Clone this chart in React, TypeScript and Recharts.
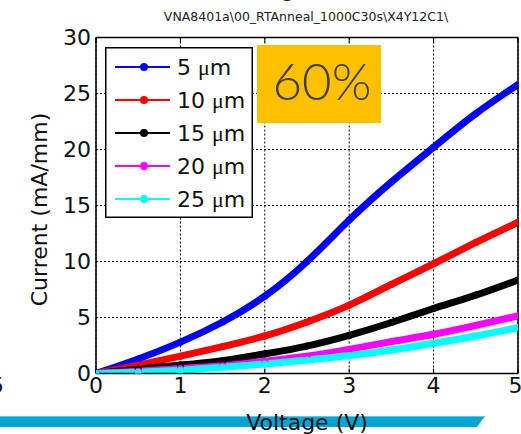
import React from 'react';
import { LineChart, Line, XAxis, YAxis, CartesianGrid, Legend } from 'recharts';

const volts = [0, 0.5, 1, 1.5, 2, 2.5, 3, 3.5, 4, 4.5, 5];
const cur5um = [0, 1.3, 2.8, 4.6, 6.9, 10.0, 13.7, 17.1, 20.2, 23.2, 25.8];
const cur10um = [0, 0.75, 1.55, 2.4, 3.35, 4.6, 6.1, 7.95, 9.8, 11.7, 13.5];
const cur15um = [0, 0.4, 0.75, 1.15, 1.75, 2.45, 3.4, 4.55, 5.8, 7.0, 8.35];
const cur20um = [0, 0.2, 0.45, 0.7, 1.1, 1.55, 2.15, 2.85, 3.5, 4.3, 5.15];
const cur25um = [0, 0.12, 0.3, 0.55, 0.85, 1.2, 1.6, 2.1, 2.7, 3.35, 4.1];

const xTicks = [0, 1, 2, 3, 4, 5];
const yTicks = [0, 5, 10, 15, 20, 25, 30];

const series = [
  { key: 's5', name: '5 μm', color: '#0000ff', values: cur5um },
  { key: 's10', name: '10 μm', color: '#ff0000', values: cur10um },
  { key: 's15', name: '15 μm', color: '#000000', values: cur15um },
  { key: 's20', name: '20 μm', color: '#ff00ff', values: cur20um },
  { key: 's25', name: '25 μm', color: '#00ffff', values: cur25um },
];

const data = volts.map((v, i) => {
  const row: Record<string, number> = { v };
  series.forEach((s) => {
    row[s.key] = s.values[i];
  });
  return row;
});

const FONT = 'DejaVu Sans';
const EmptyTick = () => <g />;

const renderLegend = (props: any) => {
  const payload: any[] = props.payload || [];
  const items = series.map((s) => {
    const p = payload.find((e) => e.dataKey === s.key);
    return { value: p ? p.value : s.name, color: p ? p.color : s.color };
  });
  return (
    <svg width={148} height={171} style={{ display: 'block' }}>
      <rect x={0.75} y={0.75} width={146.5} height={169.5} fill="#fff" stroke="#000" strokeWidth={1.5} />
      {items.map((it, i) => {
        const cy = 20 + i * 33;
        const [num, unit] = String(it.value).split(' ');
        return (
          <g key={i}>
            <line x1={10} x2={65} y1={cy} y2={cy} stroke={it.color} strokeWidth={2} />
            <circle cx={39} cy={cy} r={4} fill={it.color} />
            <text x={72} y={cy + 8} fontFamily={FONT} fontSize={22} fill="#111">
              {num + ' '}
              <tspan fontFamily="Liberation Serif">{unit ? unit.charAt(0) : ''}</tspan>
              <tspan>{unit ? unit.slice(1) : ''}</tspan>
            </text>
          </g>
        );
      })}
    </svg>
  );
};

export default function App() {
  return (
    <div
      style={{
        position: 'absolute',
        left: 0,
        top: 0,
        width: 521,
        height: 434,
        overflow: 'hidden',
        background: '#fff',
      }}
    >
      <div
        style={{
          position: 'absolute',
          left: 0,
          top: 416,
          width: 485,
          height: 11,
          background: '#00a6d4',
          borderTop: '1px solid #5cc6e6',
          boxSizing: 'border-box',
          clipPath: 'polygon(0 0, 485px 0, 477px 100%, 0 100%)',
        }}
      />
      <div style={{ position: 'absolute', left: 0, top: 0 }}>
        <LineChart
          width={521}
          height={434}
          data={data}
          margin={{ top: 37.5, right: 3, bottom: 3.5, left: 10 }}
        >
          <CartesianGrid stroke="#000" strokeDasharray="2 2" strokeWidth={1} />
          <XAxis
            dataKey="v"
            type="number"
            domain={[0, 5]}
            ticks={xTicks}
            allowDataOverflow
            tickLine={false}
            tickSize={0}
            tickMargin={4}
            height={57}
            axisLine={{ stroke: '#000', strokeWidth: 1.5 }}
            tick={{ fontSize: 22, fill: '#111', fontFamily: FONT }}
            label={{
              value: 'Voltage (V)',
              position: 'insideBottom',
              offset: 0.5,
              fontSize: 22,
              fill: '#111',
              fontFamily: FONT,
            }}
          />
          <XAxis
            xAxisId="top"
            dataKey="v"
            type="number"
            orientation="top"
            mirror
            domain={[0, 5]}
            ticks={xTicks}
            tickSize={5}
            tick={EmptyTick}
            tickLine={{ stroke: '#000' }}
            axisLine={{ stroke: '#000', strokeWidth: 1.5 }}
          />
          <XAxis
            xAxisId="bm"
            dataKey="v"
            type="number"
            orientation="bottom"
            mirror
            domain={[0, 5]}
            ticks={xTicks}
            tickSize={5}
            tick={EmptyTick}
            tickLine={{ stroke: '#000' }}
            axisLine={false}
          />
          <YAxis
            type="number"
            domain={[0, 30]}
            ticks={yTicks}
            allowDataOverflow
            width={86}
            tickLine={false}
            tickSize={0}
            tickMargin={5}
            axisLine={{ stroke: '#000', strokeWidth: 1.5 }}
            tick={{ fontSize: 22, fill: '#111', fontFamily: FONT }}
            label={{
              value: 'Current (mA/mm)',
              angle: -90,
              position: 'center',
              dx: -14,
              dy: 4,
              fontSize: 22,
              fill: '#111',
              fontFamily: FONT,
            }}
          />
          <YAxis
            yAxisId="right"
            type="number"
            orientation="right"
            mirror
            domain={[0, 30]}
            ticks={yTicks}
            tickSize={5}
            tick={EmptyTick}
            tickLine={{ stroke: '#000' }}
            axisLine={{ stroke: '#000', strokeWidth: 1.5 }}
          />
          <YAxis
            yAxisId="lm"
            type="number"
            orientation="left"
            mirror
            domain={[0, 30]}
            ticks={yTicks}
            tickSize={5}
            tick={EmptyTick}
            tickLine={{ stroke: '#000' }}
            axisLine={false}
          />
          {series.map((s) => (
            <Line
              key={s.key}
              dataKey={s.key}
              name={s.name}
              type="natural"
              stroke={s.color}
              strokeWidth={7}
              dot={{ r: 3.5, fill: s.color, stroke: 'none' }}
              isAnimationActive={false}
            />
          ))}
          <Legend
            layout="vertical"
            align="center"
            verticalAlign="middle"
            wrapperStyle={{ left: 105, top: 47, width: 148, height: 171 }}
            content={renderLegend}
          />
        </LineChart>
      </div>
      <svg
        width={521}
        height={434}
        style={{ position: 'absolute', left: 0, top: 0, pointerEvents: 'none' }}
      >
        <text x={345} y={-3} textAnchor="end" fontFamily={FONT} fontSize={21} fill="#111">
          Current vs. Voltage (V)
        </text>
        <text x={306} y={21} textAnchor="middle" fontFamily={FONT} fontSize={12.5} fill="#222">
          {'VNA8401a\\00_RTAnneal_1000C30s\\X4Y12C1\\'}
        </text>
        <text x={4} y={393} textAnchor="end" fontFamily={FONT} fontSize={22} fill="#111">
          5
        </text>
        <rect x={257} y={45} width={124} height={78} fill="#ffc000" />
        <text x={322} y={100} textAnchor="middle" fontFamily="Lato" fontWeight={300} fontSize={51} fill="#404040">
          60%
        </text>
      </svg>
    </div>
  );
}
